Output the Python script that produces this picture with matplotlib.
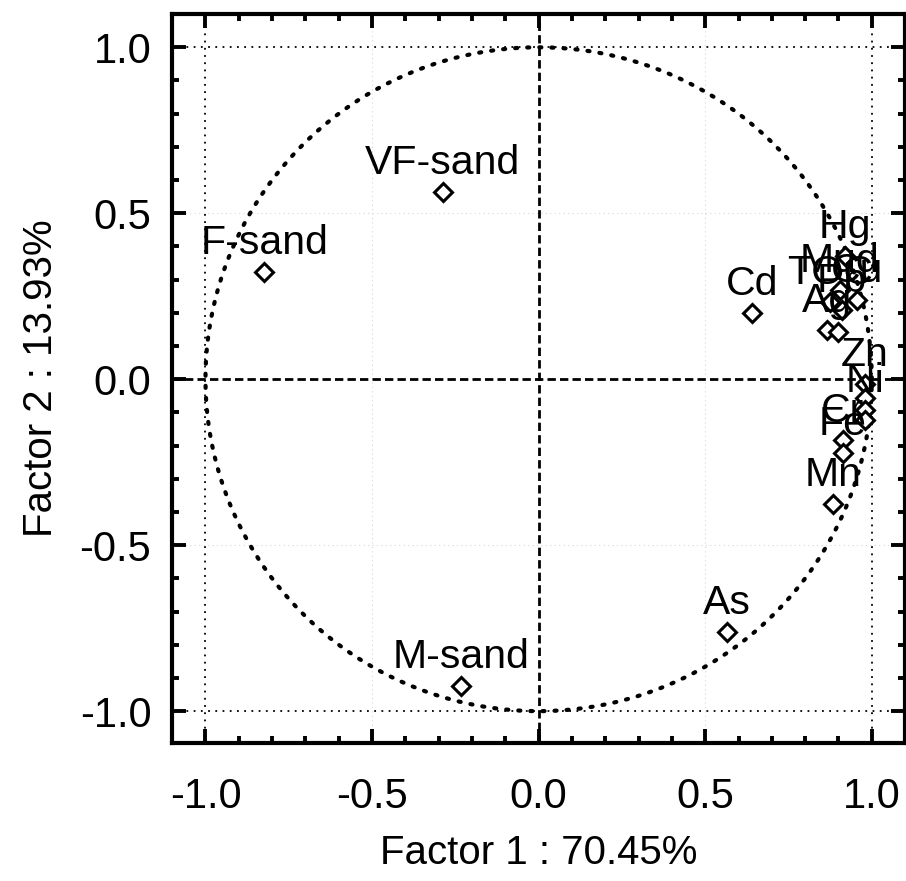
import numpy as np
import matplotlib
matplotlib.use("Agg")
import matplotlib.pyplot as plt
from matplotlib.ticker import MultipleLocator

plt.rcParams['font.family'] = ['Liberation Sans', 'DejaVu Sans']

# factor loadings
names = ["VF-sand", "F-sand", "M-sand", "Cd", "As",
         "Hg", "Mud", "TOC", "Cu", "Pb", "Ag", "",
         "Zn", "", "Ni", "", "Cr", "Fe", "Mn"]
factor1 = [-0.288, -0.823, -0.234, 0.640, 0.565,
           0.920, 0.904, 0.874, 0.955, 0.910, 0.865, 0.898,
           0.979, 0.979, 0.979, 0.979, 0.913, 0.913, 0.883]
factor2 = [0.563, 0.322, -0.925, 0.199, -0.762,
           0.370, 0.268, 0.232, 0.238, 0.208, 0.148, 0.142,
           -0.015, -0.057, -0.093, -0.123, -0.184, -0.223, -0.375]

xlabel = "Factor 1 : 70.45%"
ylabel = "Factor 2 : 13.93%"

fig = plt.figure(figsize=(9.06, 8.81), dpi=100)
ax = fig.add_axes([0.19, 0.157, 0.809, 0.827])

# unit circle
t = np.linspace(0, 2 * np.pi, 400)
ax.plot(np.cos(t), np.sin(t), color='black', lw=3.0, linestyle=(0, (0.5, 2.4)),
        dash_capstyle='round', zorder=2)

# grid and zero lines
for v in (-1.0, 1.0):
    ax.axhline(v, color='black', lw=1.3, linestyle=(0, (1, 3)), zorder=1)
    ax.axvline(v, color='black', lw=1.3, linestyle=(0, (1, 3)), zorder=1)
for v in (-0.5, 0.5):
    ax.axhline(v, color='#d8d8d8', lw=0.8, linestyle=(0, (1, 3)), zorder=1)
    ax.axvline(v, color='#d8d8d8', lw=0.8, linestyle=(0, (1, 3)), zorder=1)
ax.axhline(0, color='black', lw=2.0, linestyle=(0, (3, 1.5)), zorder=1)
ax.axvline(0, color='black', lw=2.0, linestyle=(0, (3, 1.5)), zorder=1)

ax.plot(factor1, factor2, linestyle='none', marker='D', ms=9, mfc='white',
        mec='black', mew=2.2, zorder=3)
for n, x, y in zip(names, factor1, factor2):
    if n:
        ax.annotate(n, (x, y), xytext=(0, 13), textcoords='offset points',
                    ha='center', va='baseline', fontsize=29.5, zorder=4)

ax.set_xlim(-1.1, 1.1)
ax.set_ylim(-1.095, 1.1)
ax.xaxis.set_major_locator(MultipleLocator(0.5))
ax.yaxis.set_major_locator(MultipleLocator(0.5))
ax.xaxis.set_minor_locator(MultipleLocator(0.1))
ax.yaxis.set_minor_locator(MultipleLocator(0.1))
ax.xaxis.set_major_formatter(matplotlib.ticker.FormatStrFormatter('%.1f'))
ax.yaxis.set_major_formatter(matplotlib.ticker.FormatStrFormatter('%.1f'))
ax.tick_params(which='both', direction='in', top=True, right=True, width=2.8)
ax.tick_params(which='major', length=10, labelsize=30)
ax.tick_params(which='minor', length=5)
ax.tick_params(axis='x', which='major', pad=25)
ax.tick_params(axis='y', which='major', pad=15)
for s in ax.spines.values():
    s.set_linewidth(3)

ax.set_xlabel(xlabel, fontsize=29, labelpad=12)
ax.set_ylabel(ylabel, fontsize=29, labelpad=14)

fig.savefig("out.png", dpi=100)
